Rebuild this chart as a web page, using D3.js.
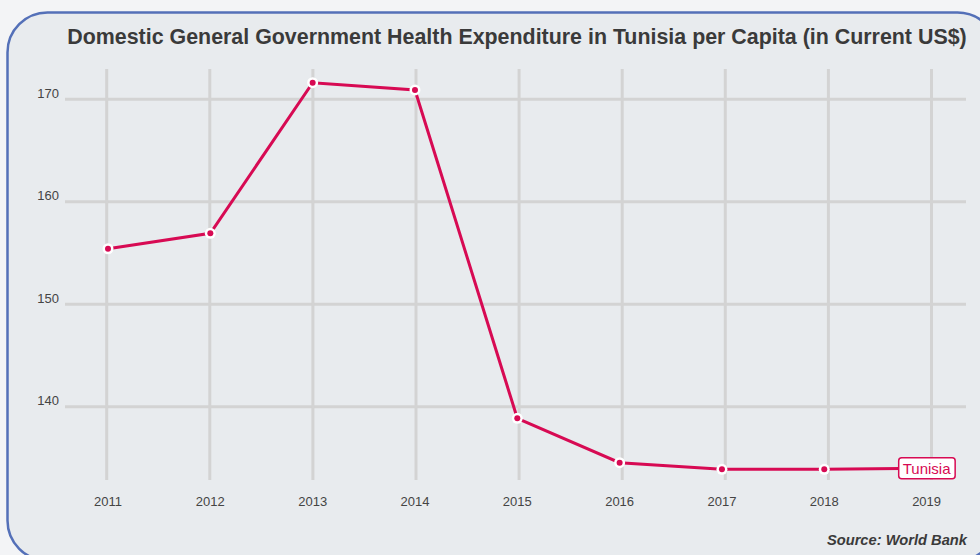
<!DOCTYPE html>
<html>
<head>
<meta charset="utf-8">
<script src="https://cdn.jsdelivr.net/npm/d3@7/dist/d3.min.js"></script>
<style>
  html, body { margin: 0; padding: 0; background: #f3f4f6; }
  svg { display: block; }
  text { font-family: "Liberation Sans", Arial, Helvetica, sans-serif; }
</style>
</head>
<body>
<svg id="chart" width="980" height="555"></svg>
<script>
// Domestic general government health expenditure per capita, Tunisia (current US$)
const years = [2011, 2012, 2013, 2014, 2015, 2016, 2017, 2018, 2019];
const tunisia = [155.42, 156.93, 171.62, 170.91, 138.88, 134.55, 133.9, 133.9, 134.0];
const yTicks = [140, 150, 160, 170];
const seriesName = "Tunisia";
const titleText = "Domestic General Government Health Expenditure in Tunisia per Capita (in Current US$)";
const sourceText = "Source: World Bank";

const svg = d3.select("#chart");
const red = "#d70a53";

// panel
svg.append("rect")
  .attr("x", 7.5).attr("y", 12.5)
  .attr("width", 990).attr("height", 548)
  .attr("rx", 40).attr("ry", 40)
  .attr("fill", "#e8ebee")
  .attr("stroke", "#5470b8")
  .attr("stroke-width", 2.5);

// scales
const x = d3.scalePoint().domain(years).range([108, 926.6]);
const xGrid = d3.scalePoint().domain(years).range([106.7, 931.5]);
const y = d3.scaleLinear().domain([133, 173]).range([478.55, 68.55]);

const plotLeft = 65, plotRight = 966, plotTop = 69, plotBottom = 480;

// horizontal gridlines
svg.append("g").selectAll("line").data(yTicks).join("line")
  .attr("x1", plotLeft).attr("x2", plotRight)
  .attr("y1", d => y(d)).attr("y2", d => y(d))
  .attr("stroke", "#d3d3d3").attr("stroke-width", 3);

// vertical gridlines
svg.append("g").selectAll("line").data(years).join("line")
  .attr("x1", d => xGrid(d)).attr("x2", d => xGrid(d))
  .attr("y1", plotTop).attr("y2", plotBottom)
  .attr("stroke", "#d3d3d3").attr("stroke-width", 3);

// y tick labels
svg.append("g").selectAll("text").data(yTicks).join("text")
  .attr("x", 59).attr("y", d => y(d) - 1.5)
  .attr("text-anchor", "end")
  .attr("font-size", 13).attr("fill", "#444")
  .text(d => d);

// x tick labels
svg.append("g").selectAll("text").data(years).join("text")
  .attr("x", d => x(d)).attr("y", 506)
  .attr("text-anchor", "middle")
  .attr("font-size", 13).attr("fill", "#444")
  .text(d => d);

// series line
const pts = years.map((yr, i) => [yr, tunisia[i]]);
svg.append("path")
  .datum(pts)
  .attr("fill", "none")
  .attr("stroke", red)
  .attr("stroke-width", 3)
  .attr("d", d3.line().x(d => x(d[0])).y(d => y(d[1])));

// markers
const mk = svg.append("g").selectAll("g").data(pts.slice(0, -1)).join("g")
  .attr("transform", d => `translate(${x(d[0])},${y(d[1])})`);
mk.append("circle").attr("r", 5.5).attr("fill", "#fff");
mk.append("circle").attr("r", 3).attr("fill", red);

// series label at last point
const last = pts[pts.length - 1];
const lg = svg.append("g").attr("transform", `translate(${x(last[0])},${y(last[1])})`);
const lt = lg.append("text")
  .attr("text-anchor", "middle").attr("y", 5.5)
  .attr("font-size", 15).attr("fill", red)
  .text(seriesName);
const bb = lt.node().getBBox();
lg.insert("rect", "text")
  .attr("x", bb.x - 4).attr("y", -10.5)
  .attr("width", bb.width + 8).attr("height", 21)
  .attr("rx", 3)
  .attr("fill", "#fff").attr("stroke", red).attr("stroke-width", 1.5);

// title
svg.append("text")
  .attr("x", 517).attr("y", 44)
  .attr("text-anchor", "middle")
  .attr("font-size", 21.4).attr("font-weight", "bold").attr("fill", "#3a3a3a")
  .text(titleText);

// source
svg.append("text")
  .attr("x", 967).attr("y", 545)
  .attr("text-anchor", "end")
  .attr("font-size", 14.7).attr("font-weight", "bold").attr("font-style", "italic")
  .attr("fill", "#3a3a3a")
  .text(sourceText);
</script>
</body>
</html>
